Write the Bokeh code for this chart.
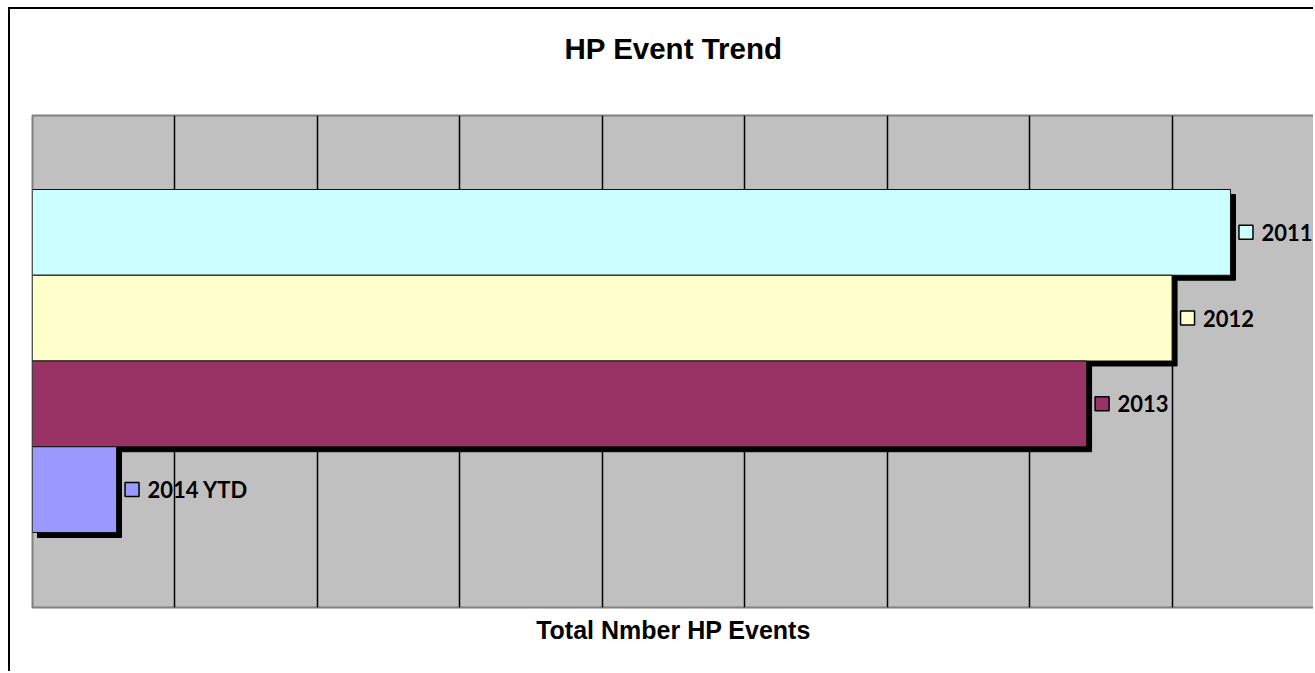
from bokeh.plotting import figure
from bokeh.models import ColumnDataSource, FixedTicker, Range1d, LinearAxis
from bokeh.core.properties import value
from bokeh.embed import file_html
from bokeh.resources import INLINE

# ---- data ----
series = ["2011", "2012", "2013", "2014 YTD"]
events = [84.1, 80.0, 74.0, 5.9]          # total HP events (grid step = 10)
colors = ["#CCFFFF", "#FFFFCC", "#993366", "#9999FF"]
grid_ticks = [10, 20, 30, 40, 50, 60, 70, 80]
title_text = "HP Event Trend"
x_title = "Total Nmber HP Events"

# ---- layout constants ----
X_MAX = 90
FRAME_W = 1282
PX_X = FRAME_W / X_MAX
Y_LO, Y_HI = -1.375, 4.363
FRAME_H = 492
PX_Y = FRAME_H / (Y_HI - Y_LO)

ypos = [len(series) - 1 - i for i in range(len(series))]
sh_dx = 5 / PX_X
sh_dy = 5 / PX_Y

src = ColumnDataSource(dict(
    name=series,
    val=events,
    y=ypos,
    color=colors,
    sh_left=[sh_dx] * len(series),
    sh_right=[v + sh_dx for v in events],
    sh_top=[y + 0.5 - sh_dy for y in ypos],
    sh_bot=[y - 0.5 - sh_dy for y in ypos],
    sq_x=[v + 15.5 / PX_X for v in events],
))

p = figure(width=1305, height=664, output_backend="svg", toolbar_location=None,
           x_range=Range1d(0, X_MAX), y_range=Range1d(Y_LO, Y_HI),
           min_border_left=22, min_border_right=1, min_border_top=106, min_border_bottom=66)
p.styles = {"margin-left": "8px", "margin-top": "7px",
            "border-left": "2px solid black", "border-top": "2px solid black"}

p.background_fill_color = "#C0C0C0"
p.border_fill_color = "white"
p.outline_line_color = "#808080"
p.outline_line_width = 2

# grid
p.ygrid.visible = False
p.xgrid.ticker = FixedTicker(ticks=grid_ticks)
p.xgrid.grid_line_color = "black"
p.xgrid.grid_line_width = 1.5


def bare_axis(ax, label, size, standoff):
    ax.ticker = FixedTicker(ticks=[])
    ax.major_tick_line_color = None
    ax.minor_tick_line_color = None
    ax.axis_line_color = None
    ax.major_label_text_font_size = "0px"
    ax.major_label_standoff = 0
    ax.axis_label = label
    ax.axis_label_text_font = "Liberation Sans"
    ax.axis_label_text_font_style = "bold"
    ax.axis_label_text_font_size = size
    ax.axis_label_text_color = "black"
    ax.axis_label_standoff = standoff


# axes
p.yaxis.visible = False
bare_axis(p.xaxis[0], x_title, "25px", 8)

# title as an axis label above the frame
top_axis = LinearAxis()
bare_axis(top_axis, title_text, "29.5px", 51)
p.add_layout(top_axis, "above")

# shadows then bars
p.quad(left="sh_left", right="sh_right", top="sh_top", bottom="sh_bot", source=src,
       fill_color="black", line_color="black")
p.hbar(y="y", left=0, right="val", height=1.0, source=src,
       fill_color="color", line_color="#111111", line_width=1)

# labels
p.scatter(x="sq_x", y="y", marker="square", size=14, source=src,
          fill_color="color", line_color="black", line_width=1.5)
p.text(x="val", y="y", text="name", source=src, x_offset=31,
       text_align="left", text_baseline="middle",
       text_font=value("Lato"), text_font_style="bold", text_font_size="22px",
       text_color="black")

open("out.html", "w").write(file_html(p, INLINE))
